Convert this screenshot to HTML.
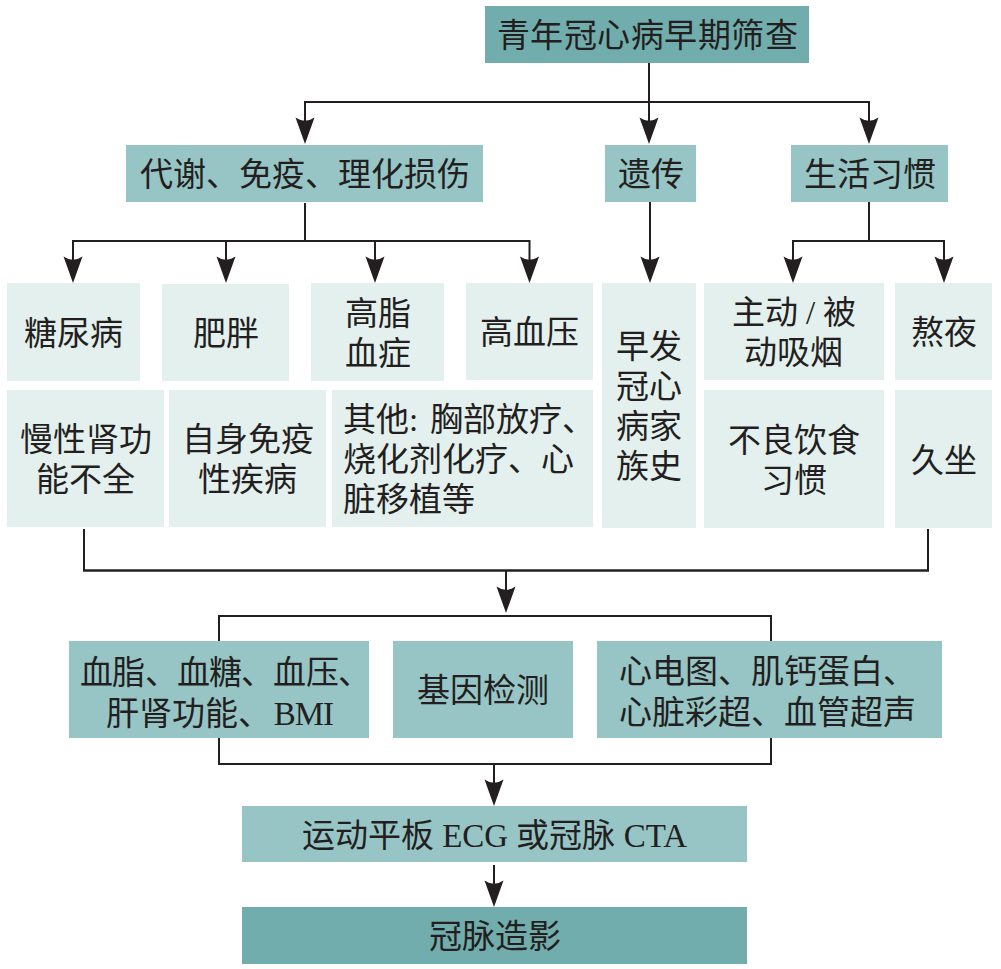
<!DOCTYPE html>
<html lang="zh-CN">
<head>
<meta charset="utf-8">
<style>
html,body{margin:0;padding:0;background:#ffffff;}
body{width:1001px;height:969px;position:relative;overflow:hidden;font-family:"Liberation Serif",serif;color:#231f20;}
.b{position:absolute;display:flex;align-items:center;justify-content:center;text-align:center;font-size:33px;line-height:40px;white-space:nowrap;}
.d{background:#71adac;}
.m{background:#97c5c5;}
.l{background:#e3f0ee;}
svg{position:absolute;left:0;top:0;}
.t{position:relative;top:1.5px;}
</style>
</head>
<body>
<svg width="1001" height="969" viewBox="0 0 1001 969">
<g stroke="#231f20" stroke-width="2" fill="none" stroke-linecap="butt" stroke-linejoin="miter">
<!-- top connectors -->
<path d="M649 63V102M304 102H870M305 102V125M649 102V125M869 102V125"/>
<path d="M305 203V241M72 241H530.5M73 241V262M226 241V262M375 241V262M529.5 241V262"/>
<path d="M650 202V262"/>
<path d="M869 202V241M792 241H945M793 241V262M944 241V262"/>
<!-- bottom -->
<path d="M84 529V570.5M928 529V570.5M506 570.5V595"/>
<path d="M83 570.5H929" stroke-width="2.5"/>
<path d="M218 616H772M219 616V764M771 616V764M218 764H772"/>
<path d="M494 764V785M494 865V887"/>
</g>
<g fill="#231f20">
<path d="M-9.5 -26.5Q0 -20 9.5 -26.5L0 0Z" transform="translate(305 144)"/>
<path d="M-9.5 -26.5Q0 -20 9.5 -26.5L0 0Z" transform="translate(649 144)"/>
<path d="M-9.5 -26.5Q0 -20 9.5 -26.5L0 0Z" transform="translate(869 144)"/>
<path d="M-9.5 -26.5Q0 -20 9.5 -26.5L0 0Z" transform="translate(73 283)"/>
<path d="M-9.5 -26.5Q0 -20 9.5 -26.5L0 0Z" transform="translate(226 283)"/>
<path d="M-9.5 -26.5Q0 -20 9.5 -26.5L0 0Z" transform="translate(375 283)"/>
<path d="M-9.5 -26.5Q0 -20 9.5 -26.5L0 0Z" transform="translate(529.5 283)"/>
<path d="M-9.5 -26.5Q0 -20 9.5 -26.5L0 0Z" transform="translate(650 283)"/>
<path d="M-9.5 -26.5Q0 -20 9.5 -26.5L0 0Z" transform="translate(793 283)"/>
<path d="M-9.5 -26.5Q0 -20 9.5 -26.5L0 0Z" transform="translate(944 283)"/>
<path d="M-9.5 -26.5Q0 -20 9.5 -26.5L0 0Z" transform="translate(506 613)"/>
<path d="M-9.5 -26.5Q0 -20 9.5 -26.5L0 0Z" transform="translate(494 806)"/>
<path d="M-9.5 -26.5Q0 -20 9.5 -26.5L0 0Z" transform="translate(494 907)"/>
</g>
</svg>

<div class="b d" style="left:485px;top:6px;width:324px;height:57px;"><span class="t" style="top:1px;letter-spacing:0.5px;left:0.25px">青年冠心病早期筛查</span></div>
<div class="b m" style="left:126px;top:145px;width:357px;height:57px;"><span class="t">代谢、免疫、理化损伤</span></div>
<div class="b m" style="left:605px;top:145px;width:91px;height:57px;"><span class="t">遗传</span></div>
<div class="b m" style="left:791px;top:145px;width:157px;height:57px;"><span class="t">生活习惯</span></div>

<div class="b l" style="left:7px;top:283px;width:133px;height:98px;"><span class="t">糖尿病</span></div>
<div class="b l" style="left:162px;top:284px;width:127px;height:97px;"><span class="t">肥胖</span></div>
<div class="b l" style="left:311px;top:283px;width:133px;height:98px;"><span class="t">高脂<br>血症</span></div>
<div class="b l" style="left:466px;top:283px;width:127px;height:97px;"><span class="t">高血压</span></div>
<div class="b l" style="left:602px;top:283px;width:94px;height:245px;"><span class="t">早发<br>冠心<br>病家<br>族史</span></div>
<div class="b l" style="left:704px;top:283px;width:180px;height:97px;"><span class="t">主动 / 被<br>动吸烟</span></div>
<div class="b l" style="left:895px;top:283px;width:97px;height:97px;"><span class="t">熬夜</span></div>

<div class="b l" style="left:7px;top:390px;width:157px;height:137px;"><span class="t">慢性肾功<br>能不全</span></div>
<div class="b l" style="left:169px;top:390px;width:157px;height:137px;"><span class="t">自身免疫<br>性疾病</span></div>
<div class="b l" style="left:332px;top:390px;width:261px;height:137px;justify-content:flex-start;text-align:left;"><span class="t" style="left:11px;">其他<span style="margin-right:4px">:</span> 胸部放疗、<br>烧化剂化疗、心<br>脏移植等</span></div>
<div class="b l" style="left:704px;top:390px;width:180px;height:138px;"><span class="t">不良饮食<br>习惯</span></div>
<div class="b l" style="left:895px;top:390px;width:97px;height:138px;"><span class="t">久坐</span></div>

<div class="b m" style="left:69px;top:641px;width:300px;height:97px;justify-content:flex-start;text-align:left;"><span class="t" style="left:11.2px;top:4px;line-height:41px;"><span style="letter-spacing:-0.8px">血脂、血糖、血压、</span><br><span style="position:relative;left:26px">肝肾功能、<span style="margin-left:2.5px;letter-spacing:-1px">BMI</span></span></span></div>
<div class="b m" style="left:393px;top:641px;width:180px;height:97px;"><span class="t">基因检测</span></div>
<div class="b m" style="left:597px;top:641px;width:345px;height:97px;justify-content:flex-start;text-align:left;"><span class="t" style="left:22px;top:3px;line-height:40.5px;">心电图、肌钙蛋白、<br>心脏彩超、血管超声</span></div>

<div class="b m" style="left:242px;top:806px;width:505px;height:56px;"><span class="t">运动平板 ECG 或冠脉 CTA</span></div>
<div class="b d" style="left:242px;top:907px;width:505px;height:57px;"><span class="t">冠脉造影</span></div>
</body>
</html>
